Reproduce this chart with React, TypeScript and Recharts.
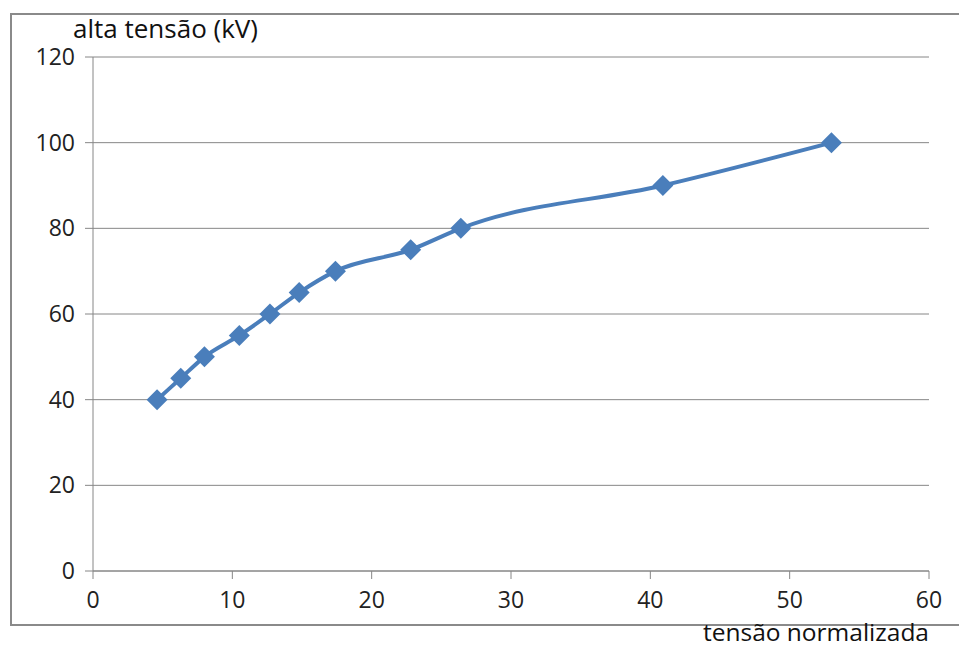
import React from 'react';
import { CartesianGrid, Line, LineChart, XAxis, YAxis } from 'recharts';

const normalizedVoltage = [4.6, 6.3, 8.0, 10.5, 12.7, 14.8, 17.4, 22.8, 26.4, 40.9, 53];
const highVoltage = [40, 45, 50, 55, 60, 65, 70, 75, 80, 90, 100];
const xTicks = [0, 10, 20, 30, 40, 50, 60];
const yTicks = [0, 20, 40, 60, 80, 100, 120];

const data = normalizedVoltage.map((x, i) => ({ x, y: highVoltage[i] }));

const FONT = '"Open Sans", sans-serif';
const GRID = '#868686';
const BLUE = '#4A7EBB';

const Diamond = (props: any) => {
    const { cx, cy } = props;
    if (cx == null || cy == null) return null;
    const r = 10.5;
    return <path d={`M${cx},${cy - r}L${cx + r},${cy}L${cx},${cy + r}L${cx - r},${cy}Z`} fill={BLUE} stroke="none" />;
};

export default function App() {
    return (
        <div style={{ position: 'absolute', left: 0, top: 0, width: 959, height: 647, background: '#fff', fontFamily: FONT, overflow: 'hidden' }}>
            <div
                style={{
                    position: 'absolute',
                    left: 10,
                    top: 13,
                    width: 980,
                    height: 609,
                    border: '2px solid #8a8a8a',
                    boxSizing: 'content-box',
                }}
            />
            <LineChart
                width={959}
                height={647}
                data={data}
                margin={{ top: 57, right: 30, left: 0, bottom: 0 }}
                style={{ position: 'absolute', left: 0, top: 0 }}
            >
                <CartesianGrid stroke={GRID} vertical={false} />
                <XAxis
                    dataKey="x"
                    type="number"
                    domain={[0, 60]}
                    ticks={xTicks}
                    stroke={GRID}
                    tickSize={8}
                    tickMargin={13}
                    tick={{ fontSize: 23, fill: '#222', fontFamily: FONT }}
                    height={76}
                />
                <YAxis
                    type="number"
                    domain={[0, 120]}
                    ticks={yTicks}
                    stroke={GRID}
                    tickSize={8}
                    tickMargin={10}
                    tick={{ fontSize: 23, fill: '#222', fontFamily: FONT }}
                    width={93}
                />
                <Line
                    dataKey="y"
                    type="monotoneX"
                    stroke={BLUE}
                    strokeWidth={4}
                    dot={<Diamond />}
                    activeDot={false}
                    isAnimationActive={false}
                />
            </LineChart>
            <div style={{ position: 'absolute', left: 73, top: 13, fontSize: 26, lineHeight: '30px', color: '#111', whiteSpace: 'nowrap' }}>
                alta tensão (kV)
            </div>
            <div style={{ position: 'absolute', right: 30, top: 621, fontSize: 24.5, lineHeight: '22px', color: '#111', whiteSpace: 'nowrap' }}>
                tensão normalizada
            </div>
        </div>
    );
}
